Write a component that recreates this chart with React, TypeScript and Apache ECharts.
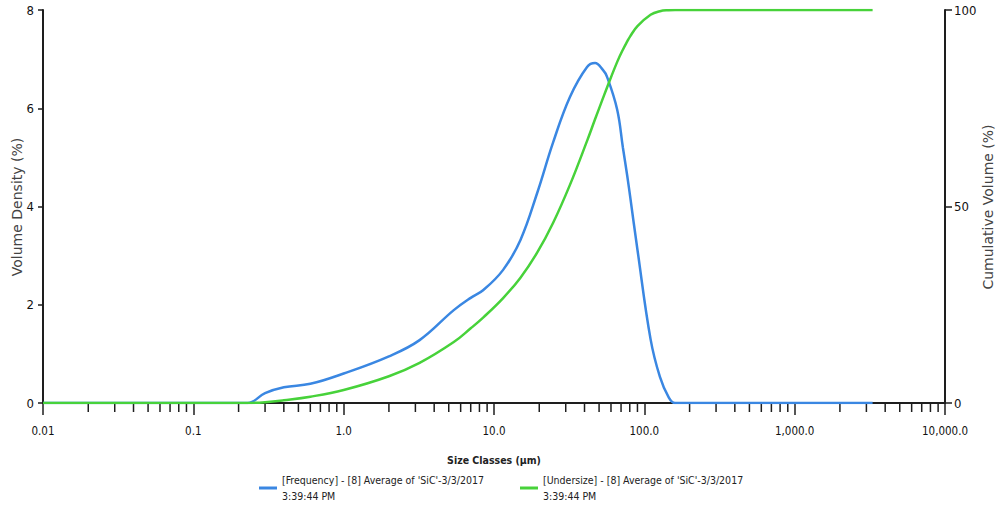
import React, { useEffect, useRef } from "react";
import * as echarts from "echarts";

// Particle size (µm) sample points
const SIZES = [0.01, 0.1, 0.2, 0.23, 0.3, 0.4, 0.6, 1.0, 2.0, 3.2, 5.4, 7, 8.5, 11.5, 15, 19.4, 24.7, 32, 41.6, 47, 53, 56.5, 66, 72, 77, 80.5, 90, 110, 127, 145, 160, 300, 1000, 3300];
// Volume density (%) – frequency curve
const FREQUENCY = [0, 0, 0, 0, 0.2, 0.32, 0.39, 0.6, 0.95, 1.28, 1.89, 2.14, 2.3, 2.71, 3.32, 4.28, 5.3, 6.23, 6.84, 6.92, 6.78, 6.64, 5.97, 5.2, 4.62, 4.2, 3.12, 1.3, 0.53, 0.12, 0, 0, 0, 0];
// Cumulative volume (%) – undersize curve
const UNDERSIZE = [0, 0, 0, 0, 0.2, 0.7, 1.6, 3.3, 6.8, 10.2, 15.5, 19, 21.8, 26.7, 31.9, 38.3, 45.8, 55.5, 66.7, 72.2, 77.5, 80.3, 86.8, 89.9, 92, 93.3, 95.9, 98.8, 99.7, 99.95, 100, 100, 100, 100];

const X_TICK_LABELS = ["0.01", "0.1", "1.0", "10.0", "100.0", "1,000.0", "10,000.0"];
const DECADES = [0.01, 0.1, 1, 10, 100, 1000];
const MINOR_MULTIPLIERS = [2, 3, 4, 5, 6, 7, 8, 9];

const FREQ_NAME = "[Frequency] - [8] Average of 'SiC'-3/3/2017\n3:39:44 PM";
const UNDER_NAME = "[Undersize] - [8] Average of 'SiC'-3/3/2017\n3:39:44 PM";
const LEFT_TITLE = "Volume Density (%)";
const RIGHT_TITLE = "Cumulative Volume (%)";

const NARROW = "'Liberation Sans Narrow', 'DejaVu Sans Condensed', 'Roboto', sans-serif";
const TITLE_FONT = "'DejaVu Sans', 'Noto Sans', sans-serif";
const BLUE = "#3a87e2";
const GREEN = "#47d23a";
const AXIS = "#1e1e1e";

export default function App() {
  const ref = useRef<HTMLDivElement>(null);

  useEffect(() => {
    if (!ref.current) return;
    const chart = echarts.init(ref.current, undefined, { renderer: "svg" });

    const minorTicks: number[][] = [];
    DECADES.forEach((d) => MINOR_MULTIPLIERS.forEach((m) => minorTicks.push([d * m, 0])));

    const legendText = { fontFamily: NARROW, fontSize: 10.5, color: "#222", lineHeight: 16 };
    const titleStyle = { fontFamily: TITLE_FONT, fontSize: 14, fill: "#444", align: "center", verticalAlign: "middle" };

    const option: any = {
      animation: false,
      backgroundColor: "#ffffff",
      grid: { left: 43, right: 53, top: 10, bottom: 108, containLabel: false, outerBoundsMode: "none" },
      graphic: [
        { type: "text", x: 17, y: 207, rotation: Math.PI / 2, style: { ...titleStyle, text: LEFT_TITLE } },
        { type: "text", x: 988, y: 207, rotation: Math.PI / 2, style: { ...titleStyle, text: RIGHT_TITLE } },
      ],
      legend: [
        {
          data: [FREQ_NAME],
          left: 254,
          top: 467,
          icon: "rect",
          itemWidth: 18,
          itemHeight: 3,
          selectedMode: false,
          textStyle: legendText,
        },
        {
          data: [UNDER_NAME],
          left: 515,
          top: 467,
          icon: "rect",
          itemWidth: 18,
          itemHeight: 3,
          selectedMode: false,
          textStyle: legendText,
        },
      ],
      xAxis: {
        type: "log",
        logBase: 10,
        min: 0.01,
        max: 10000,
        splitNumber: 6,
        name: "Size Classes (µm)",
        nameLocation: "middle",
        nameGap: 51,
        nameTextStyle: { fontFamily: NARROW, fontSize: 10.5, fontWeight: "bold", color: "#222" },
        axisLine: { show: true, onZero: false, lineStyle: { color: AXIS, width: 2 } },
        axisTick: { show: true, length: 12, lineStyle: { color: AXIS, width: 1.5 } },
        axisLabel: {
          margin: 22,
          fontFamily: NARROW,
          fontSize: 11.5,
          color: "#111",
          formatter: (v: number) => X_TICK_LABELS[Math.round(Math.log10(v)) + 2] ?? "",
        },
        splitLine: { show: false },
        minorTick: { show: false },
      },
      yAxis: [
        {
          type: "value",
          min: 0,
          max: 8,
          interval: 2,
          position: "left",
          axisLine: { show: true, onZero: false, lineStyle: { color: AXIS, width: 2 } },
          axisTick: { show: true, length: 5, lineStyle: { color: AXIS, width: 1.5 } },
          axisLabel: { margin: 9, fontFamily: NARROW, fontSize: 13, color: "#111" },
          splitLine: { show: false },
        },
        {
          type: "value",
          min: 0,
          max: 100,
          interval: 50,
          position: "right",
          axisLine: { show: true, onZero: false, lineStyle: { color: AXIS, width: 2 } },
          axisTick: { show: true, length: 7, lineStyle: { color: AXIS, width: 1.5 } },
          axisLabel: { margin: 9, fontFamily: NARROW, fontSize: 13, color: "#111" },
          splitLine: { show: false },
        },
      ],
      series: [
        {
          type: "custom",
          name: "minorTicks",
          xAxisIndex: 0,
          yAxisIndex: 0,
          silent: true,
          clip: false,
          data: minorTicks,
          encode: { x: 0, y: 1 },
          renderItem: (_params: any, api: any) => {
            const p = api.coord([api.value(0), 0]);
            return {
              type: "line",
              shape: { x1: p[0], y1: p[1], x2: p[0], y2: p[1] + 9 },
              style: { stroke: AXIS, lineWidth: 1.5 },
            };
          },
        },
        {
          type: "line",
          name: FREQ_NAME,
          yAxisIndex: 0,
          data: SIZES.map((s, i) => [s, FREQUENCY[i]]),
          showSymbol: false,
          smooth: 0.4,
          lineStyle: { color: BLUE, width: 2.5 },
          itemStyle: { color: BLUE },
        },
        {
          type: "line",
          name: UNDER_NAME,
          yAxisIndex: 1,
          data: SIZES.map((s, i) => [s, UNDERSIZE[i]]),
          showSymbol: false,
          smooth: 0.4,
          lineStyle: { color: GREEN, width: 2.5 },
          itemStyle: { color: GREEN },
        },
      ],
    };

    chart.setOption(option);
    return () => chart.dispose();
  }, []);

  return (
    <div style={{ position: "absolute", left: 0, top: 0, width: 998, height: 511, background: "#fff" }}>
      <div ref={ref} style={{ width: 998, height: 511 }} />
    </div>
  );
}
